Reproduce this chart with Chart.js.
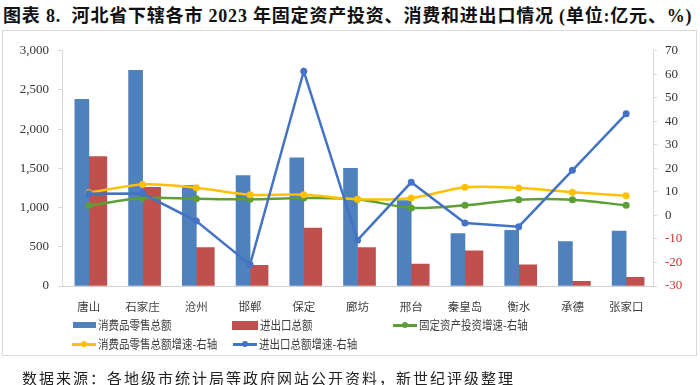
<!DOCTYPE html>
<html>
<head>
<meta charset="utf-8">
<script src="https://cdn.jsdelivr.net/npm/chart.js@4"></script>
<style>
  body { margin: 0; width: 700px; height: 385px; background: #fff; position: relative; overflow: hidden; }
  #title { position: absolute; left: 3px; top: 1px; font: bold 18px "Liberation Serif", "Noto Sans CJK SC"; letter-spacing: 0.8px; color: #111; white-space: nowrap; }
  #box { position: absolute; left: 2px; top: 30px; width: 693px; height: 324px; border: 1px solid #d9d9d9; }
  #wrap { position: absolute; left: 4px; top: 34px; width: 692px; height: 300px; }
  #legend { position: absolute; left: 0; top: 0; }
  .item { position: absolute; height: 18px; font: 12.5px "Noto Sans CJK SC"; color: #404040; white-space: nowrap; line-height: 18px; }
  .item span { display: inline-block; transform: scaleX(0.84); transform-origin: left center; }
  .sw { position: absolute; }
  #source { position: absolute; left: 22px; top: 367px; font: 15px "Noto Sans CJK SC"; letter-spacing: 2px; color: #222; white-space: nowrap; }
</style>
</head>
<body>
<div id="title">图表 8.&nbsp; 河北省下辖各市 2023 年固定资产投资、消费和进出口情况 (单位:亿元、%)</div>
<div id="box"></div>
<div id="wrap"><canvas id="chart"></canvas></div>
<div id="legend"></div>
<div id="source">数据来源：各地级市统计局等政府网站公开资料，新世纪评级整理</div>
<script>
// 城市
const cities = ['唐山', '石家庄', '沧州', '邯郸', '保定', '廊坊', '邢台', '秦皇岛', '衡水', '承德', '张家口'];
// 亿元, 左轴
const retailSales = [2380, 2750, 1285, 1410, 1635, 1500, 1090, 670, 710, 565, 700];
const tradeTotal = [1650, 1260, 490, 265, 740, 490, 280, 450, 270, 60, 110];
// %, 右轴
const fixedInvGrowth = [4.2, 7.4, 7.1, 6.9, 7.4, 6.9, 3.2, 4.3, 6.7, 6.7, 4.3];
const retailGrowth = [9.6, 13.2, 11.8, 8.8, 8.8, 6.9, 7.4, 12.0, 11.7, 9.9, 8.4];
const tradeGrowth = [9.2, 9.3, -2.4, -20.9, 61.3, -10.5, 14.1, -3.2, -4.8, 19.2, 43.2];

const leftTicks = [0, 3000, 500];
const rightTicks = [-30, 70, 10];

function lineSet(label, data, color, order, tension) {
  return {
    type: 'line', label: label, data: data, yAxisID: 'y1', order: order,
    borderColor: color, backgroundColor: color, borderWidth: 2.5,
    pointRadius: 3.5, pointBackgroundColor: color, pointBorderWidth: 0,
    tension: tension
  };
}

const chart = new Chart(document.getElementById('chart'), {
  data: {
    labels: cities,
    datasets: [
      { type: 'bar', label: '消费品零售总额', data: retailSales, backgroundColor: '#4F81BD', barThickness: 14, order: 4, yAxisID: 'y' },
      { type: 'bar', label: '进出口总额', data: tradeTotal, backgroundColor: '#C0504D', barThickness: 18, order: 5, yAxisID: 'y' },
      lineSet('固定资产投资增速-右轴', fixedInvGrowth, '#5E9E36', 3, 0.3),
      lineSet('消费品零售总额增速-右轴', retailGrowth, '#FFC000', 2, 0.3),
      lineSet('进出口总额增速-右轴', tradeGrowth, '#4472C4', 1, 0)
    ]
  },
  options: {
    responsive: true,
    maintainAspectRatio: false,
    animation: false,
    layout: { padding: { top: 13, left: 0, right: 0, bottom: 0 } },
    plugins: { legend: { display: false }, tooltip: { enabled: false } },
    scales: {
      x: {
        grid: { display: false },
        border: { color: '#d0d0d0' },
        ticks: { padding: 6, color: '#404040', font: { family: 'Noto Sans CJK SC', size: 11.5 } },
        afterFit: s => { s.height = 48; }
      },
      y: {
        position: 'left',
        min: leftTicks[0], max: leftTicks[1],
        grid: { drawOnChartArea: false, drawTicks: true, tickLength: 4, color: '#d9d9d9' },
        border: { color: '#d9d9d9' },
        ticks: {
          stepSize: leftTicks[2], padding: 9, color: '#333',
          font: { family: 'Liberation Serif', size: 13 },
          callback: v => v.toLocaleString('en-US')
        },
        afterFit: s => { s.width = 58; }
      },
      y1: {
        position: 'right',
        min: rightTicks[0], max: rightTicks[1],
        grid: { drawOnChartArea: false, drawTicks: true, tickLength: 4, color: '#d9d9d9' },
        border: { color: '#d9d9d9' },
        ticks: {
          stepSize: rightTicks[2], padding: 8,
          color: c => (c.tick && c.tick.value < 0 ? '#D03030' : '#333'),
          font: { family: 'Liberation Serif', size: 13 }
        },
        afterFit: s => { s.width = 43; }
      }
    }
  }
});

// 图例, 按原图三列排布
const slots = [[73, 325], [232, 325], [393, 325], [72, 344], [233, 344]];
const legend = document.getElementById('legend');
chart.data.datasets.forEach((ds, i) => {
  const [x, y] = slots[i];
  const item = document.createElement('div');
  item.className = 'item';
  item.style.left = x + 'px';
  item.style.top = (y - 9) + 'px';
  let sw = '';
  if (ds.type === 'bar') {
    const w = ds.barThickness === 14 ? 23 : 26, h = ds.barThickness === 14 ? 6 : 9;
    sw = `<div class="sw" style="left:0;top:${9 - h / 2}px;width:${w}px;height:${h}px;background:${ds.backgroundColor}"></div>`;
    item.innerHTML = sw + `<span style="position:absolute;left:${w + 2}px">${ds.label}</span>`;
  } else {
    sw = `<div class="sw" style="left:0;top:8px;width:24px;height:2.5px;background:${ds.borderColor}"></div>` +
         `<div class="sw" style="left:9px;top:6px;width:6px;height:6px;border-radius:3px;background:${ds.borderColor}"></div>`;
    item.innerHTML = sw + `<span style="position:absolute;left:26px">${ds.label}</span>`;
  }
  legend.appendChild(item);
});
</script>
</body>
</html>
